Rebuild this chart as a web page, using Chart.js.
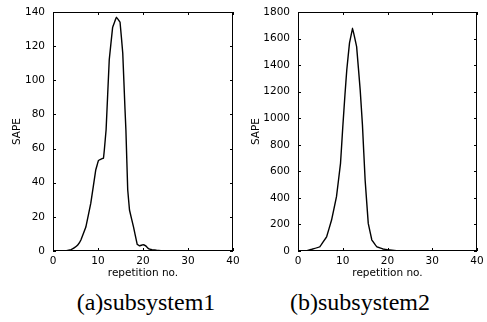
<!DOCTYPE html>
<html lang="en">
<head>
<meta charset="UTF-8" />
<title>SAPE per repetition</title>
<script src="https://cdn.jsdelivr.net/npm/chart.js"></script>
<style>
  body { margin: 0; background: #fff; }
  #page { position: relative; width: 487px; height: 322px; overflow: hidden; }
  canvas { position: absolute; top: 0; }
  .cap { position: absolute; top: 290px; width: 200px; text-align: center;
         font-family: "Liberation Serif", "Times New Roman", serif; font-size: 24px; line-height: 24px; color: #000; }
</style>
</head>
<body>
<div id="page">
  <canvas id="chartA" width="243" height="282" style="left:0"></canvas>
  <canvas id="chartB" width="242" height="282" style="left:245px"></canvas>
  <div class="cap" style="left:46px">(a)subsystem1</div>
  <div class="cap" style="left:260px">(b)subsystem2</div>
</div>

<script>
// subsystem 1
const repA  = [0, 3, 4, 4.7, 5.5, 6.2, 7.3, 8.4, 9.5, 10.1, 10.8, 11.2, 11.4, 11.8, 12.5, 13.25, 14.1, 14.9, 15.5, 16.0, 16.2, 16.6, 17.0, 17.9, 18.7, 19.2, 20.0, 20.6, 21.2, 22, 23, 25, 40]
const sapeA = [0, 0.2, 0.8, 1.8, 3.5, 6.4, 14, 28, 47.5, 53, 54, 54.3, 59, 71, 112, 131, 137, 134, 116, 83, 71, 36, 24, 14, 4, 3, 3.7, 3, 1.4, 0.8, 0.4, 0.1, 0]
// subsystem 2
const repB  = [0, 2, 3.1, 4.9, 6.4, 7.5, 8.6, 9.5, 10.0, 10.5, 10.9, 11.5, 12.2, 13.1, 13.9, 14.4, 15.0, 15.7, 16.5, 17.6, 19, 20, 22, 24, 40]
const sapeB = [0, 3, 13, 32, 108, 233, 409, 660, 930, 1180, 1363, 1564, 1677, 1539, 1212, 950, 535, 208, 83, 32, 15, 10, 3, 0, 0]

const tickFont = { family: '"DejaVu Sans", sans-serif', size: 10.5 }

// matlab-like box with inward ticks on all four sides
const boxTicks = {
    id: 'boxTicks',
    afterDraw(chart) {
        const { ctx, chartArea: a, scales: { x, y } } = chart
        const len = 3
        ctx.save()
        ctx.strokeStyle = '#000'
        ctx.lineWidth = 1
        ctx.strokeRect(a.left + 0.5, a.top + 0.5, a.width - 1, a.height - 1)
        ctx.beginPath()
        x.ticks.forEach((t, i) => {
            const px = Math.round(x.getPixelForTick(i)) + 0.5
            ctx.moveTo(px, a.bottom); ctx.lineTo(px, a.bottom - len)
            ctx.moveTo(px, a.top); ctx.lineTo(px, a.top + len)
        })
        y.ticks.forEach((t, i) => {
            const py = Math.round(y.getPixelForTick(i)) + 0.5
            ctx.moveTo(a.left, py); ctx.lineTo(a.left + len, py)
            ctx.moveTo(a.right, py); ctx.lineTo(a.right - len, py)
        })
        ctx.stroke()
        ctx.restore()
    }
}

function makeChart(id, xs, ys, yMax, yStep, titlePad) {
    new Chart(document.getElementById(id), {
        type: 'line',
        data: {
            datasets: [{
                data: xs.map((v, i) => ({ x: v, y: ys[i] })),
                borderColor: '#000', borderWidth: 1.4,
                pointRadius: 0, fill: false, tension: 0.02
            }]
        },
        options: {
            responsive: false,
            animation: false,
            layout: { padding: { top: 12, right: 10, left: 0, bottom: 0 } },
            plugins: { legend: { display: false }, tooltip: { enabled: false } },
            scales: {
                x: {
                    type: 'linear', min: 0, max: 40,
                    grid: { display: false }, border: { display: false },
                    ticks: { stepSize: 10, color: '#000', font: tickFont, padding: -4, maxRotation: 0 },
                    title: { display: true, text: 'repetition no.', color: '#000', font: tickFont, padding: { top: 0, bottom: 2 } },
                    afterFit: s => { s.height = 31 }
                },
                y: {
                    min: 0, max: yMax,
                    grid: { display: false }, border: { display: false },
                    ticks: { stepSize: yStep, color: '#000', font: tickFont, padding: 0, callback: v => String(v) },
                    title: { display: true, text: 'SAPE', color: '#000', font: tickFont, padding: { top: titlePad, bottom: 0 } },
                    afterFit: s => { s.width = 53 }
                }
            }
        },
        plugins: [boxTicks]
    })
}

makeChart('chartA', repA, sapeA, 140, 20, 11)
makeChart('chartB', repB, sapeB, 1800, 200, 5)
</script>
</body>
</html>
